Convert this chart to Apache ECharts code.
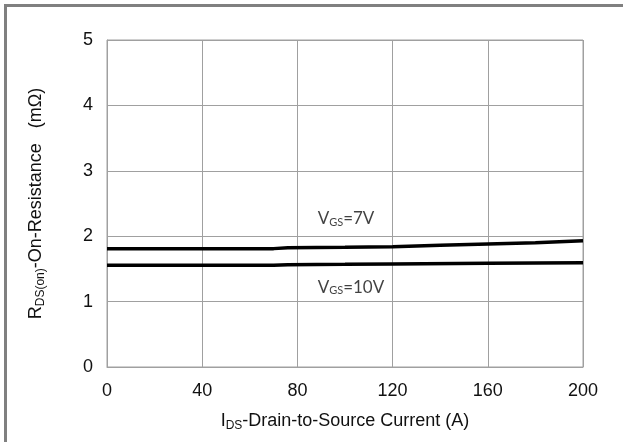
<!DOCTYPE html>
<html><head><meta charset="utf-8">
<script src="https://cdn.jsdelivr.net/npm/echarts@6/dist/echarts.min.js"></script>
<style>html,body{margin:0;padding:0;background:#fff}#c{width:623px;height:442px}</style>
</head><body><div id="c"></div>
<script>
var xTicks = [0, 40, 80, 120, 160, 200];
var yTicks = [0, 1, 2, 3, 4, 5];
var vgs7 = [[0,1.81],[70,1.81],[76,1.825],[100,1.83],[120,1.84],[140,1.86],[160,1.88],[180,1.9],[200,1.93]];
var vgs10 = [[0,1.555],[70,1.555],[76,1.565],[100,1.57],[120,1.575],[160,1.585],[200,1.595]];
var labels = [{text:'7V', x:88.5, y:2.27}, {text:'10V', x:88.5, y:1.22}];

var chart = echarts.init(document.getElementById('c'));
var font = 'Liberation Sans, Arial, sans-serif';
var titleRich = {n:{fontSize:18, fontFamily:font, color:'#111'}, s:{fontSize:12, fontFamily:font, color:'#111', verticalAlign:'bottom', padding:[9,0,0,0]}};
chart.setOption({
  animation:false,
  grid:{left:107, right:40, top:40, bottom:75, show:true, borderColor:'#a0a0a0', borderWidth:1},
  xAxis:{type:'value', min:0, max:200, interval:40,
    axisLine:{show:true, lineStyle:{color:'#a0a0a0'}}, axisTick:{show:false},
    splitLine:{show:true, lineStyle:{color:'#a0a0a0', width:1}},
    axisLabel:{color:'#111', fontSize:18, fontFamily:font, margin:15},
    name:'{n|I}{s|DS}{n|-Drain-to-Source Current (A)}', nameLocation:'middle', nameGap:44,
    nameTextStyle:{rich:titleRich}
  },
  yAxis:{type:'value', min:0, max:5, interval:1,
    axisLine:{show:true, lineStyle:{color:'#a0a0a0'}}, axisTick:{show:false},
    splitLine:{show:true, lineStyle:{color:'#a0a0a0', width:1}},
    axisLabel:{color:'#111', fontSize:18, fontFamily:font, margin:14},
    name:'{n|R}{s|DS(on)}{n|-On-Resistance   (mΩ)}', nameLocation:'middle', nameGap:60, nameRotate:90,
    nameTextStyle:{rich:titleRich}
  },
  series:[
    {type:'line', data:vgs7, symbol:'none', lineStyle:{color:'#000', width:3.5}},
    {type:'line', data:vgs10, symbol:'none', lineStyle:{color:'#000', width:3.5}},
    {type:'scatter', data:labels.map(function(l){return {value:[l.x,l.y], name:l.text};}), symbolSize:0,
      label:{show:true, position:'right', distance:0, formatter:function(p){return '{n|V}{s|GS}{n|='+p.name+'}';},
        rich:{n:{fontSize:17, fontFamily:'Lato, Open Sans, sans-serif', color:'#111'}, s:{fontSize:11, fontFamily:'Lato, Open Sans, sans-serif', color:'#111', verticalAlign:'bottom', padding:[7,0,0,0]}}}}
  ],
  graphic:[
    {type:'rect', shape:{x:4, y:4, width:619, height:3}, style:{fill:'#808080'}},
    {type:'rect', shape:{x:4, y:4, width:3, height:438}, style:{fill:'#808080'}}
  ]
});
</script></body></html>
